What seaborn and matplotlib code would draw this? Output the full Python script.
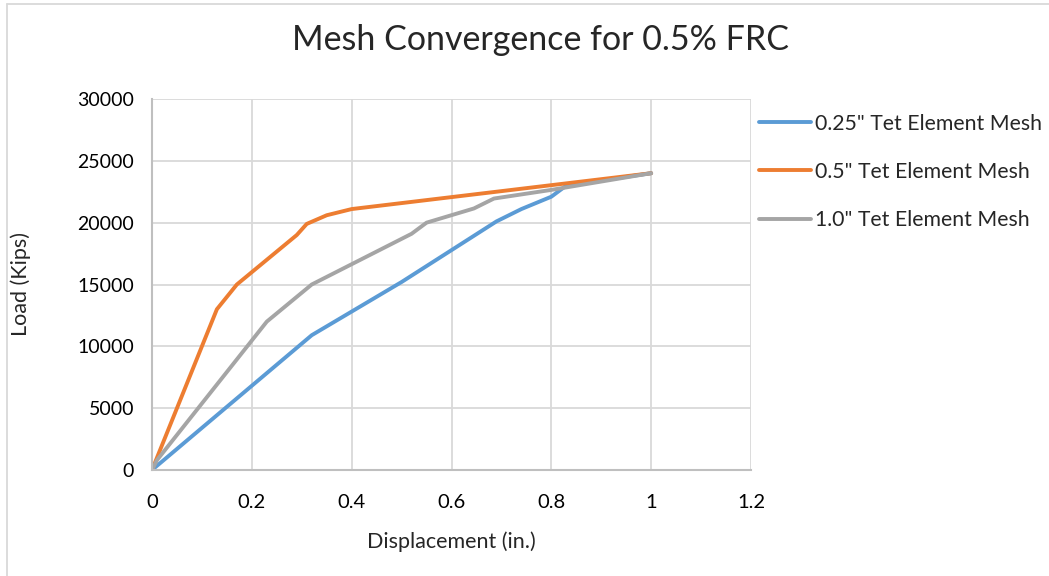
import matplotlib
matplotlib.use("Agg")
import matplotlib.pyplot as plt
import seaborn as sns
import pandas as pd
from matplotlib.lines import Line2D

series_names = ['0.25" Tet Element Mesh', '0.5" Tet Element Mesh', '1.0" Tet Element Mesh']
colors = ["#5B9BD5", "#ED7D31", "#A5A5A5"]

x_025 = [0.0, 0.32, 0.50, 0.69, 0.74, 0.80, 0.83, 1.0]
y_025 = [0, 10900, 15200, 20100, 21100, 22100, 23000, 24000]

x_05 = [0.0, 0.13, 0.17, 0.29, 0.31, 0.35, 0.40, 1.0]
y_05 = [0, 13000, 15000, 19000, 19900, 20600, 21100, 24000]

x_10 = [0.0, 0.01, 0.23, 0.32, 0.52, 0.55, 0.645, 0.685, 0.80, 1.0]
y_10 = [0, 800, 12000, 15000, 19100, 20000, 21150, 21950, 22650, 24000]

x_ticks = [0, 0.2, 0.4, 0.6, 0.8, 1.0, 1.2]
x_tick_labels = ["0", "0.2", "0.4", "0.6", "0.8", "1", "1.2"]
y_ticks = [0, 5000, 10000, 15000, 20000, 25000, 30000]
y_tick_labels = ["0", "5000", "10000", "15000", "20000", "25000", "30000"]

rows = []
for name, xs, ys in zip(series_names, [x_025, x_05, x_10], [y_025, y_05, y_10]):
    for i, (a, b) in enumerate(zip(xs, ys)):
        rows.append({"series": name, "order": i, "x": a, "y": b})
df = pd.DataFrame(rows)

sns.set_theme(style="white")
plt.rcParams['font.family'] = ['Lato', 'DejaVu Sans']

fig = plt.figure(figsize=(10.49, 5.76), dpi=100)
ax = fig.add_axes([152/1049, 1 - 470/576, (751-152)/1049, (470-99)/576])

sns.lineplot(data=df, x="x", y="y", hue="series", hue_order=series_names,
             palette=colors, sort=False, linewidth=2.8, ax=ax, legend=False,
             estimator=None)

ax.set_xlim(0, 1.2)
ax.set_ylim(0, 30000)
ax.set_xticks(x_ticks)
ax.set_xticklabels(x_tick_labels, fontsize=14.5)
ax.set_yticks(y_ticks)
ax.set_yticklabels(y_tick_labels, fontsize=14)
ax.tick_params(axis="x", length=0, pad=17, colors="#000000")
ax.tick_params(axis="y", length=0, pad=13, colors="#000000")
ax.grid(True, color="#D9D9D9", linewidth=1.3)
ax.set_axisbelow(True)
for s in ["top", "right"]:
    ax.spines[s].set_visible(False)
for s in ["left", "bottom"]:
    ax.spines[s].set_color("#BFBFBF")
    ax.spines[s].set_linewidth(1.5)

ax.set_xlabel("Displacement (in.)", fontsize=15.5, labelpad=15)
ax.set_ylabel("Load (Kips)", fontsize=15.5, labelpad=33)

fig.suptitle("Mesh Convergence for 0.5% FRC", x=541/1049, y=1 - 24/576, fontsize=24.5, va="top")

handles = [Line2D([0], [0], color=c, lw=2.8) for c in colors]
fig.legend(handles, series_names, loc="upper left", bbox_to_anchor=(750/1049, 1 - 105/576),
           frameon=False, fontsize=15.3, handlelength=2.45, handletextpad=0.2,
           labelspacing=1.33, borderaxespad=0)

# chart border (left and top edges visible)
fig.add_artist(Line2D([7/1049, 7/1049], [0, 1 - 4/576], color="#D9D9D9", lw=1.3, transform=fig.transFigure))
fig.add_artist(Line2D([7/1049, 1], [1 - 4/576, 1 - 4/576], color="#D9D9D9", lw=1.3, transform=fig.transFigure))

fig.savefig("out.png", dpi=100, facecolor="white")
